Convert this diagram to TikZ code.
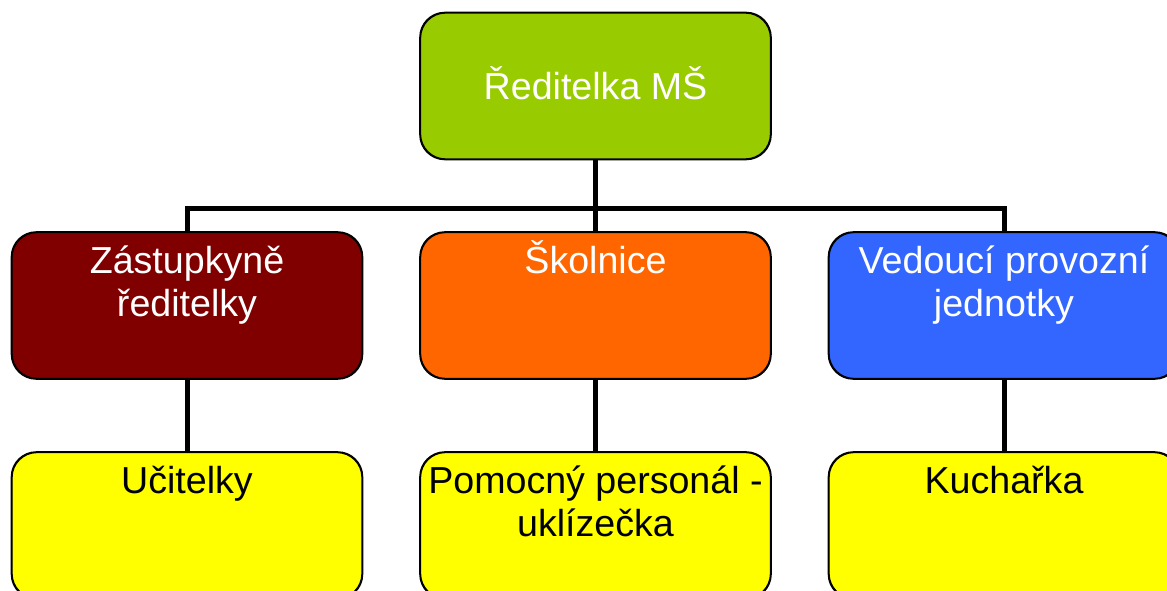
\documentclass[tikz,border=0pt]{standalone}
\usepackage{fontspec}
\setmainfont{Liberation Sans}
\definecolor{cgreen}{HTML}{99CC00}
\definecolor{cred}{HTML}{800000}
\definecolor{corange}{HTML}{FF6600}
\definecolor{cblue}{HTML}{3366FF}
\definecolor{cyellow}{HTML}{FFFF00}
\begin{document}
\begin{tikzpicture}[x=1pt,y=-1pt,
  box/.style={draw=black,line width=1.3pt,rounded corners=25pt,minimum width=350pt,minimum height=146pt,inner sep=0pt},
  lbl/.style={font=\fontsize{37.6}{43.5}\selectfont,align=center,inner sep=0pt,anchor=base},
  conn/.style={line width=5pt,draw=black}]
\useasboundingbox (0,0) rectangle (1167,591);
\clip (0,0) rectangle (1167,591);
% boxes
\node[box,fill=cgreen] (top) at (595.5,86) {};
\node[box,fill=cred] (zast) at (187,305.5) {};
\node[box,fill=corange] (skol) at (595.5,305.5) {};
\node[box,fill=cblue] (ved) at (1004,305.5) {};
\node[box,fill=cyellow] (ucit) at (187,525.5) {};
\node[box,fill=cyellow] (pom) at (595.5,525.5) {};
\node[box,fill=cyellow] (kuch) at (1004,525.5) {};
% connectors
\coordinate (bus) at (595.5,208);
\draw[conn] (top.south) -- (skol.north);
\draw[conn] (zast.north) |- (bus) -| (ved.north);
\draw[conn] (zast.south) -- (ucit.north);
\draw[conn] (skol.south) -- (pom.north);
\draw[conn] (ved.south) -- (kuch.north);
% redraw borders over connector ends
\foreach \n in {top,zast,skol,ved,ucit,pom,kuch}{\draw[line width=1.3pt,rounded corners=25pt] (\n.north west) rectangle (\n.south east);}
% labels (base anchor = last line)
\node[lbl,text=white] (topt) at (595.5,100) {Ředitelka MŠ};
\node[lbl,text=white] (zastt) at (187,316.5) {Zástupkyně\\ředitelky};
\node[lbl,text=white] (skolt) at (595.5,273) {Školnice};
\node[lbl,text=white] (vedt) at (1004,316.5) {Vedoucí provozní\\jednotky};
\node[lbl,text=black] (ucitt) at (187,493) {Učitelky};
\node[lbl,text=black] (pomt) at (595.5,536.5) {Pomocný personál -\\uklízečka};
\node[lbl,text=black] (kucht) at (1004,493) {Kuchařka};
\end{tikzpicture}
\end{document}
